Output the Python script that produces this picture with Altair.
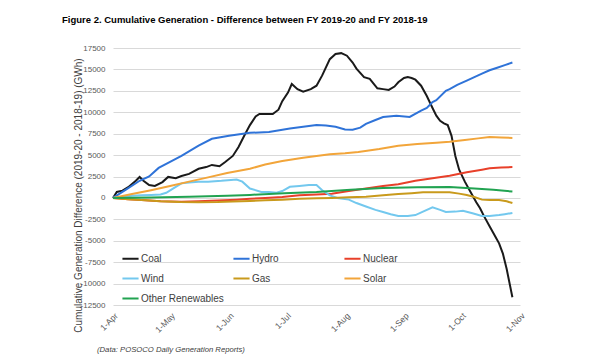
import altair as alt
import pandas as pd

# ---------------- data ----------------
series_names = ["Coal", "Hydro", "Nuclear", "Wind", "Gas", "Solar", "Other Renewables"]
series_colors = ["#1a1a1a", "#2f73d8", "#e8402a", "#73c8ee", "#c99a1c", "#f2a53a", "#21a351"]

# day offsets from 1-Apr-2019 and cumulative difference (GWh)
coal_days = [0, 2, 5, 8, 12, 14, 16, 19, 22, 26, 29, 33, 36, 40, 45, 49, 52, 56, 59, 63, 66, 69, 72, 75, 77,
             80, 84, 87, 89, 92, 94, 97, 100, 104, 107, 110, 114, 117, 120, 123, 126, 128, 132, 135, 139, 142,
             145, 148, 150, 153, 155, 157, 159, 162, 165, 168, 170, 172, 174, 176, 178, 180, 182, 185, 188,
             191, 193, 195, 198, 201, 203, 205, 207, 210]
coal_vals = [0, 700, 850, 1250, 2000, 2450, 2000, 1500, 1400, 1850, 2450, 2300, 2550, 2800, 3400, 3600, 3850,
             3700, 4200, 4900, 5950, 7250, 8500, 9500, 9800, 9800, 9800, 10300, 11300, 12300, 13300, 12700,
             12400, 12700, 13100, 14300, 16200, 16800, 16900, 16600, 15800, 15100, 14100, 13900, 12800, 12700,
             12600, 13000, 13500, 14000, 14100, 14000, 13800, 13100, 11900, 10500, 9600, 9000, 8700, 8500,
             7250, 4900, 3300, 1900, 700, -500, -1200, -2100, -3300, -4500, -5300, -6500, -8300, -11600]

hydro_days = [0, 7, 14, 19, 24, 30, 36, 45, 52, 61, 72, 82, 93, 100, 107, 112, 117, 122, 126, 130, 133, 138,
              142, 149, 156, 162, 165, 168, 170, 175, 177, 181, 186, 190, 194, 198, 202, 206, 210]
hydro_vals = [0, 1000, 2000, 2500, 3500, 4200, 4900, 6100, 6900, 7250, 7600, 7700, 8100, 8300, 8500, 8450,
              8300, 8000, 7950, 8200, 8650, 9100, 9450, 9600, 9450, 10200, 10500, 11200, 11400, 12500, 12700,
              13200, 13700, 14100, 14500, 14900, 15200, 15500, 15800]

nuclear_days = [0, 8, 15, 25, 36, 45, 55, 65, 72, 80, 89, 98, 107, 115, 124, 133, 142, 150, 159, 168, 177,
                186, 194, 198, 204, 210]
nuclear_vals = [0, -150, -250, -380, -450, -400, -300, -200, -100, 0, 100, 300, 400, 500, 800, 1100, 1400,
                1600, 2000, 2300, 2600, 3000, 3300, 3450, 3550, 3600]

wind_days = [0, 5, 10, 15, 20, 25, 28, 33, 36, 40, 45, 50, 57, 62, 65, 68, 72, 78, 82, 86, 89, 93, 98, 103,
             107, 110, 114, 118, 124, 128, 133, 138, 142, 146, 150, 155, 159, 163, 168, 172, 175, 180, 184,
             189, 194, 198, 203, 206, 210]
wind_vals = [0, 150, 250, 300, 350, 400, 600, 1300, 1700, 1800, 1900, 1900, 2000, 2100, 2150, 1900, 1100, 700,
             700, 600, 800, 1300, 1400, 1500, 1500, 900, 300, 0, -200, -600, -1000, -1400, -1650, -1900, -2100,
             -2100, -2000, -1600, -1100, -1400, -1650, -1600, -1500, -1800, -2100, -2100, -2000, -1900, -1750]

gas_days = [0, 8, 15, 25, 35, 45, 55, 63, 72, 80, 89, 98, 107, 115, 124, 133, 142, 150, 157, 163, 170, 177,
            182, 186, 190, 194, 198, 203, 207, 210]
gas_vals = [0, -150, -250, -400, -480, -500, -480, -420, -350, -280, -200, -100, -50, 0, 80, 150, 300, 450,
            550, 650, 650, 650, 500, 350, 100, -200, -250, -250, -400, -600]

solar_days = [0, 10, 20, 30, 40, 50, 60, 72, 80, 89, 100, 114, 122, 129, 140, 150, 160, 170, 177, 185, 192,
              198, 204, 210]
solar_vals = [0, 450, 900, 1400, 1900, 2400, 2900, 3400, 3900, 4300, 4700, 5100, 5200, 5350, 5700, 6100, 6300,
              6450, 6550, 6750, 6950, 7100, 7050, 7000]

other_days = [0, 20, 40, 60, 72, 90, 107, 125, 142, 160, 177, 190, 200, 210]
other_vals = [0, 50, 150, 250, 350, 550, 700, 950, 1150, 1250, 1280, 1100, 950, 740]

month_days = [0, 30, 61, 91, 122, 153, 183, 214]
month_labels = ["1-Apr", "1-May", "1-Jun", "1-Jul", "1-Aug", "1-Sep", "1-Oct", "1-Nov"]
y_ticks = list(range(-12500, 17501, 2500))

title_text = "Figure 2. Cumulative Generation - Difference between FY 2019-20 and FY 2018-19"
y_title = "Cumulative Generation Difference (2019-20 - 2018-19)  (GWh)"
caption = "(Data: POSOCO Daily Generation Reports)"

# ---------------- build table ----------------
all_days = [coal_days, hydro_days, nuclear_days, wind_days, gas_days, solar_days, other_days]
all_vals = [coal_vals, hydro_vals, nuclear_vals, wind_vals, gas_vals, solar_vals, other_vals]
rows = []
for i, (name, dd, vv) in enumerate(zip(series_names, all_days, all_vals)):
    for d, v in zip(dd, vv):
        rows.append({"series": name, "day": d, "value": v, "z": 6 - i})
df = pd.DataFrame(rows)

FONT = "Liberation Sans"

label_expr = ("[" + ",".join("'" + l + "'" for l in month_labels) + "][indexof(["
              + ",".join(str(d) for d in month_days) + "], datum.value)]")

lines = alt.Chart(df).mark_line(strokeWidth=2).encode(
    x=alt.X("day:Q",
            scale=alt.Scale(domain=[0, 214], nice=False, zero=False),
            axis=alt.Axis(values=month_days, labelExpr=label_expr, labelAngle=315,
                          labelAlign="right", labelBaseline="top", grid=False, domain=False,
                          ticks=False, title=None, labelFontSize=8.5, labelColor="#595959",
                          labelFont=FONT, labelPadding=6)),
    y=alt.Y("value:Q",
            scale=alt.Scale(domain=[-12500, 17500], nice=False),
            axis=alt.Axis(values=y_ticks, labelExpr="'' + datum.value", grid=True,
                          gridColor="#d9d9d9", gridWidth=1, domain=False, ticks=False,
                          title=y_title, titleFontSize=10, titleFontWeight="normal",
                          titleColor="#404040", titleFont=FONT, titleX=-30, titleY=147,
                          titleAngle=270, titleAlign="center",
                          labelFontSize=8, labelColor="#595959", labelFont=FONT, labelPadding=8)),
    color=alt.Color("series:N",
                    scale=alt.Scale(domain=series_names, range=series_colors),
                    legend=alt.Legend(orient="none", legendX=8, legendY=201, direction="horizontal",
                                      columns=3, title=None, symbolType="stroke",
                                      symbolStrokeWidth=2, symbolSize=260, labelFontSize=10,
                                      labelColor="#404040", labelFont=FONT, gridAlign="all",
                                      columnPadding=5, rowPadding=5, labelOffset=1, padding=0)),
    order=alt.Order("z:Q"),
)

cap = alt.Chart(pd.DataFrame({"text": [caption]})).mark_text(
    align="left", baseline="middle", fontStyle="italic", fontSize=7.7, color="#404040", font=FONT
).encode(x=alt.value(-16), y=alt.value(302), text="text:N")

chart = alt.layer(lines, cap).properties(
    width=407, height=257,
    title=alt.TitleParams(text=title_text, anchor="start", frame="group", dx=-51, offset=20,
                          fontSize=9.5, font=FONT, fontWeight="bold", color="#000000"),
    padding={"left": 105, "top": 40, "right": 40, "bottom": 50},
    autosize=alt.AutoSizeParams(type="none"),
).configure_view(stroke=None)

chart.save("out.html", embed_options={"renderer": "svg", "actions": False})
